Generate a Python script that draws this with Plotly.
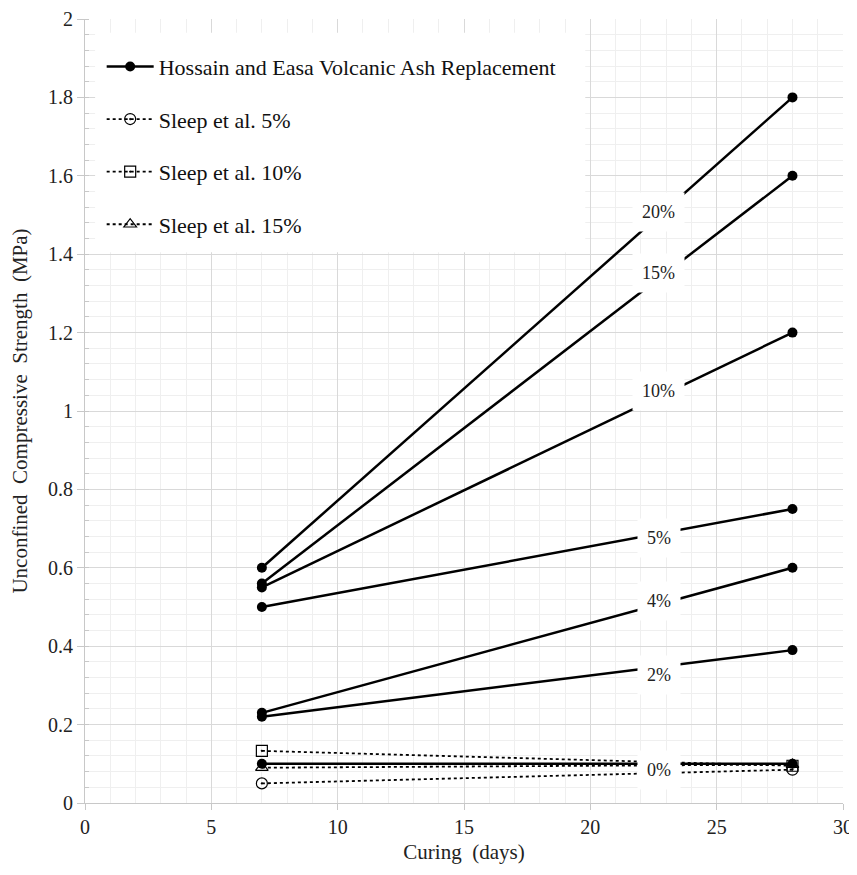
import plotly.graph_objects as go

days = [7, 28]
hossain_labels = ["0%", "2%", "4%", "5%", "10%", "15%", "20%"]
hossain_values = [
    [0.10, 0.10],
    [0.22, 0.39],
    [0.23, 0.60],
    [0.50, 0.75],
    [0.55, 1.20],
    [0.56, 1.60],
    [0.60, 1.80],
]
sleep_names = ["Sleep et al. 5%", "Sleep et al. 10%", "Sleep et al. 15%"]
sleep_values = [
    [0.050, 0.085],
    [0.133, 0.095],
    [0.090, 0.098],
]
sleep_symbols = ["circle-open-dot", "square-open-dot", "triangle-up-open"]
label_x = 22.7
label_yshift = [-6, -8, 3, -4, 6, 6, 4]

FONT = "Liberation Serif, Times New Roman, serif"
fig = go.Figure()

for i, (lab, vals) in enumerate(zip(hossain_labels, hossain_values)):
    fig.add_trace(go.Scatter(
        x=days, y=vals, mode="lines+markers",
        name="Hossain and Easa Volcanic Ash Replacement",
        legendgroup="h", showlegend=(i == 0),
        line=dict(color="black", width=2.5),
        marker=dict(color="black", size=10, symbol="circle"),
    ))

for name, vals, sym in zip(sleep_names, sleep_values, sleep_symbols):
    fig.add_trace(go.Scatter(
        x=days, y=vals, mode="lines+markers", name=name, legendgroup=name,
        line=dict(color="black", width=1.8, dash="dot"),
        marker=dict(color="black", size=11, symbol=sym, line=dict(width=1.2, color="black")),
    ))

for lab, vals, ys in zip(hossain_labels, hossain_values, label_yshift):
    y = vals[0] + (vals[1] - vals[0]) * (label_x - days[0]) / (days[1] - days[0])
    fig.add_annotation(
        x=label_x, y=y, text=lab, showarrow=False, yshift=ys,
        font=dict(family=FONT, size=18, color="#222"),
        bgcolor="white", borderpad=9,
    )

# white backdrop behind the legend (as in the reference)
fig.add_shape(type="rect", xref="x", yref="y", x0=0.4, x1=19.8, y0=1.405, y1=1.965,
              fillcolor="white", line=dict(width=0), layer="between")

fig.update_layout(
    width=849, height=867,
    margin=dict(l=77, r=14, t=11, b=72),
    paper_bgcolor="white", plot_bgcolor="white",
    font=dict(family=FONT, size=16, color="#222"),
    showlegend=True,
    legend=dict(
        x=0.022, y=0.966, xanchor="left", yanchor="top",
        bgcolor="rgba(255,255,255,0)", traceorder="grouped", tracegroupgap=21,
        font=dict(family=FONT, size=22, color="#111"),
        borderwidth=0, itemwidth=47,
    ),
)

fig.update_xaxes(
    range=[0, 30], dtick=5, tick0=0, automargin=False, ticklabeloverflow="allow",
    showline=True, linecolor="#c8c8c8", linewidth=1,
    ticks="outside", ticklen=6, tickcolor="#c8c8c8",
    showgrid=True, gridcolor="#d9d9d9", gridwidth=1,
    minor=dict(dtick=1, showgrid=True, gridcolor="#efefef", gridwidth=1),
    zeroline=False,
    title=dict(text="Curing  (days)", font=dict(family=FONT, size=21, color="#222"), standoff=7),
    tickfont=dict(family=FONT, size=20, color="#222"),
)
fig.update_yaxes(
    range=[0, 2], dtick=0.2, tick0=0, automargin=False, ticklabeloverflow="allow",
    showline=True, linecolor="#c8c8c8", linewidth=1,
    ticks="outside", ticklen=7, tickcolor="#c8c8c8",
    showgrid=True, gridcolor="#d9d9d9", gridwidth=1,
    minor=dict(dtick=0.04, showgrid=True, gridcolor="#efefef", gridwidth=1,
               ticks="inside", ticklen=4, tickcolor="#c8c8c8"),
    zeroline=False,
    title=dict(text="Unconfined  Compressive  Strength  (MPa)", font=dict(family=FONT, size=21, color="#222"), standoff=15),
    tickfont=dict(family=FONT, size=20, color="#222"),
)

fig.write_html("out.html")
